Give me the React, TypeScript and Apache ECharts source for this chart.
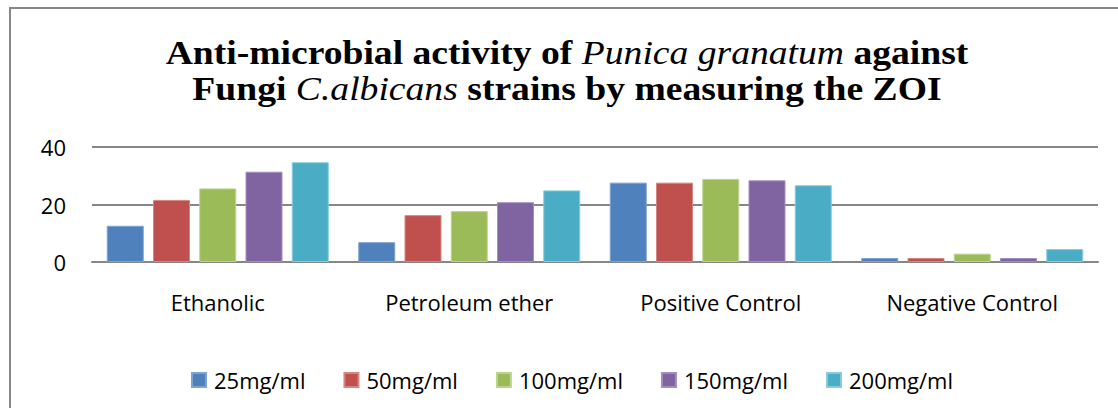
import React, { useEffect, useRef } from "react";
import * as echarts from "echarts";

const categories = ["Ethanolic", "Petroleum ether", "Positive Control", "Negative Control"];
const seriesNames = ["25mg/ml", "50mg/ml", "100mg/ml", "150mg/ml", "200mg/ml"];
const s25 = [12.6, 6.9, 27.6, 1.4];
const s50 = [21.6, 16.3, 27.6, 1.4];
const s100 = [25.6, 17.7, 28.9, 2.9];
const s150 = [31.4, 20.8, 28.4, 1.4];
const s200 = [34.7, 24.9, 26.7, 4.5];
const seriesValues = [s25, s50, s100, s150, s200];
const colors = ["#4F81BD", "#C0504D", "#9BBB59", "#8064A2", "#4BACC6"];
const borders = ["#7FA3D1", "#D8847F", "#BCD58E", "#A48EC0", "#86CCDC"];
const yTicks = [0, 20, 40];

export default function App() {
  const ref = useRef<HTMLDivElement>(null);
  useEffect(() => {
    if (!ref.current) return;
    const chart = echarts.init(ref.current, null, { renderer: "svg" });
    const label = "'Open Sans', sans-serif";
    const serifB = { fontFamily: "Liberation Serif", fontWeight: "bold", fontSize: 33, fill: "#000", lineHeight: 36 };
    const serifI = { fontFamily: "Liberation Serif", fontStyle: "italic", fontWeight: "normal", fontSize: 33, fill: "#000", lineHeight: 36 };
    chart.setOption({
      animation: false,
      backgroundColor: "#ffffff",
      graphic: [
        {
          type: "text",
          x: 567,
          y: 35,
          scaleX: 1.14,
          style: {
            text:
              "{b|Anti-microbial activity of }{i|Punica granatum}{b| against}\n{b|Fungi }{i|C.albicans}{b| strains by measuring the ZOI}",
            align: "center",
            verticalAlign: "top",
            rich: { b: serifB, i: serifI },
          },
        },
        {
          type: "rect",
          shape: { x: 10, y: 8, width: 1200, height: 500 },
          style: { fill: "none", stroke: "#888888", lineWidth: 2 },
          z: 100,
        },
      ],
      legend: {
        data: seriesNames,
        left: 186,
        top: 364,
        itemWidth: 14,
        itemHeight: 14,
        itemGap: 38,
        icon: "rect",
        textStyle: { fontFamily: label, fontSize: 22, color: "#000", padding: [0, 0, 0, 3] },
      },
      grid: { left: 92, right: 20, top: 147, bottom: 146 },
      xAxis: {
        type: "category",
        data: categories,
        axisTick: { show: false },
        axisLine: { lineStyle: { color: "#868686", width: 2 } },
        axisLabel: { fontFamily: label, fontSize: 22, color: "#000", margin: 29 },
      },
      yAxis: {
        type: "value",
        min: yTicks[0],
        max: yTicks[yTicks.length - 1],
        interval: 20,
        axisLine: { show: false },
        axisTick: { show: false },
        splitLine: { lineStyle: { color: "#868686", width: 2 } },
        axisLabel: { fontFamily: label, fontSize: 22, color: "#000", margin: 26 },
      },
      series: seriesNames.map((n, i) => ({
        name: n,
        type: "bar",
        data: seriesValues[i],
        barWidth: 37,
        barGap: "25%",
        itemStyle: { color: colors[i], borderColor: borders[i], borderWidth: 1 },
      })),
    });
    return () => chart.dispose();
  }, []);
  return <div ref={ref} style={{ width: 1118, height: 408, position: "absolute", left: 0, top: 0 }} />;
}
